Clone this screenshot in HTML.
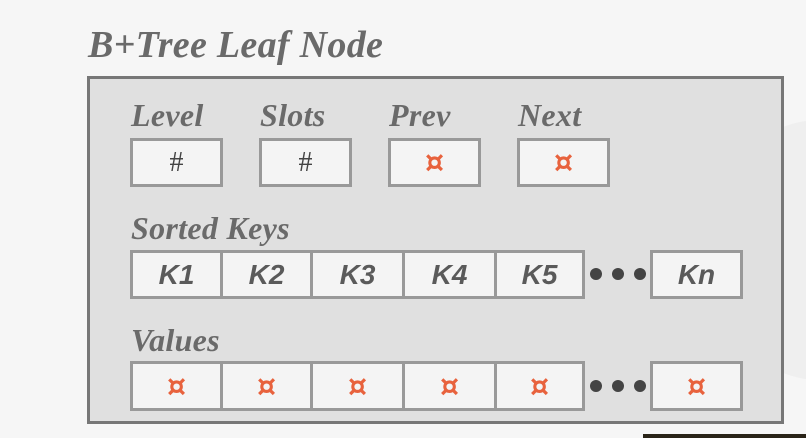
<!DOCTYPE html>
<html><head><meta charset="utf-8"><style>
body{margin:0;width:806px;height:438px;background:#f6f6f6;position:relative;overflow:hidden;font-family:"Liberation Serif",serif}
.a{position:absolute}
.lbl{position:absolute;font-style:italic;font-weight:bold;color:#6a6a6a;font-size:32px;line-height:1;letter-spacing:0.3px}
.c{position:absolute;box-sizing:border-box;background:#f4f4f4;border:3px solid #999;display:flex;align-items:center;justify-content:center;color:#555}
.k{font-family:"Liberation Sans",sans-serif;font-style:italic;font-weight:bold;font-size:28px;color:#5a5a5a}
.h{font-size:28px;color:#444}
.p{color:#e8623d;font-size:30px;font-weight:bold;font-family:"DejaVu Sans",sans-serif}
.dot{position:absolute;width:12px;height:12px;border-radius:50%;background:#444}
</style></head><body>
<div class="a" style="left:720px;top:120px;width:200px;height:260px;border-radius:100px;background:#efefef"></div>
<div class="a" style="left:643px;top:434px;width:163px;height:4px;background:#2a2418"></div>
<div class="lbl" style="left:88px;top:26px;font-size:38px">B+Tree Leaf Node</div>
<div class="a" style="left:87px;top:76px;width:697px;height:348px;box-sizing:border-box;background:#e0e0e0;border:3px solid #777"></div>
<div class="lbl" style="left:131px;top:99px">Level</div>
<div class="lbl" style="left:260px;top:99px">Slots</div>
<div class="lbl" style="left:389px;top:99px">Prev</div>
<div class="lbl" style="left:518px;top:99px">Next</div>
<div class="c h" style="left:130px;top:138px;width:93px;height:49px">#</div>
<div class="c h" style="left:259px;top:138px;width:93px;height:49px">#</div>
<div class="c p" style="left:388px;top:138px;width:93px;height:49px">¤</div>
<div class="c p" style="left:517px;top:138px;width:93px;height:49px">¤</div>
<div class="lbl" style="left:131px;top:212px">Sorted Keys</div>
<div class="c k" style="left:130px;top:250px;width:93px;height:49px">K1</div>
<div class="c k" style="left:220px;top:250px;width:93px;height:49px">K2</div>
<div class="c k" style="left:310px;top:250px;width:95px;height:49px">K3</div>
<div class="c k" style="left:402px;top:250px;width:95px;height:49px">K4</div>
<div class="c k" style="left:494px;top:250px;width:91px;height:49px">K5</div>
<div class="dot" style="left:590px;top:268px"></div><div class="dot" style="left:612px;top:268px"></div><div class="dot" style="left:634px;top:268px"></div>
<div class="c k" style="left:650px;top:250px;width:93px;height:49px">Kn</div>
<div class="lbl" style="left:131px;top:324px">Values</div>
<div class="c p" style="left:130px;top:361px;width:93px;height:50px">¤</div>
<div class="c p" style="left:220px;top:361px;width:93px;height:50px">¤</div>
<div class="c p" style="left:310px;top:361px;width:95px;height:50px">¤</div>
<div class="c p" style="left:402px;top:361px;width:95px;height:50px">¤</div>
<div class="c p" style="left:494px;top:361px;width:91px;height:50px">¤</div>
<div class="dot" style="left:590px;top:380px"></div><div class="dot" style="left:612px;top:380px"></div><div class="dot" style="left:634px;top:380px"></div>
<div class="c p" style="left:650px;top:361px;width:93px;height:50px">¤</div>
</body></html>
